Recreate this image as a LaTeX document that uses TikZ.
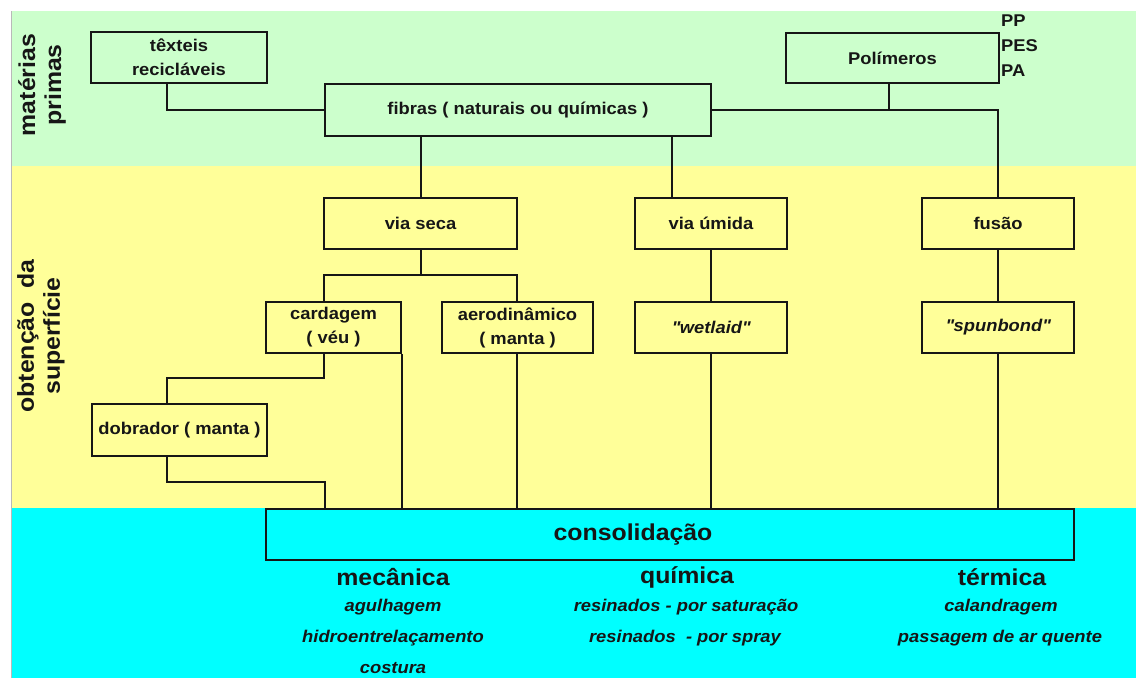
\documentclass[tikz,border=0pt]{standalone}
\usepackage{fontspec}
\setmainfont{Liberation Sans}[FakeStretch=1.08]
\usetikzlibrary{calc}
\definecolor{bggreen}{RGB}{204,255,204}
\definecolor{bgyellow}{RGB}{255,255,153}
\definecolor{bgcyan}{RGB}{0,255,255}
\definecolor{ink}{RGB}{22,22,22}
\newcommand\bxf{\fontsize{17}{24}\selectfont\bfseries}
\newcommand\hdf{\fontsize{23}{26}\selectfont\bfseries}
\newcommand\itf{\fontsize{17}{20}\selectfont\bfseries\itshape}
\begin{document}
\begin{tikzpicture}[x=1pt,y=-1pt,
  box/.style={draw=ink,line width=2pt,inner sep=0pt,align=center,font=\bxf,text=ink},
  conn/.style={draw=ink,line width=2pt},
  thinconn/.style={draw=ink,line width=1.1pt},
  head/.style={font=\hdf,text=ink,inner sep=0pt},
  item/.style={font=\itf,text=ink,inner sep=0pt},
  side/.style={font=\hdf,text=ink,rotate=90,align=center,inner sep=0pt},
  small/.style={font=\bxf,text=ink,inner sep=0pt,anchor=west}]
\useasboundingbox (0,0) rectangle (1136,678);
% background bands
\fill[bggreen] (11,11) rectangle (1136,166);
\fill[bgyellow] (11,166) rectangle (1136,508);
\fill[bgcyan] (11,508) rectangle (1136,678);
\draw[gray!55,line width=1pt] (11,11) -- (11,678);
% side labels
\node[side] (lab1) at (42,85) {matérias\\primas};
\node[side] (lab2) at (41,336) {obtenção\ \ da\\superfície};
% boxes
\node[box,minimum width=176pt,minimum height=51pt] (tex) at (179,57.5) {têxteis\\recicláveis};
\node[box,minimum width=386pt,minimum height=52pt] (fib) at (518,110) {fibras ( naturais ou químicas )};
\node[box,minimum width=213pt,minimum height=50pt] (pol) at (892.5,58) {Polímeros};
\node[small] (pp) at (1001,21) {PP};
\node[small] (pes) at (1001,46) {PES};
\node[small] (pa) at (1001,71) {PA};
\node[box,minimum width=193pt,minimum height=51pt] (seca) at (420.5,223.5) {via seca};
\node[box,minimum width=152pt,minimum height=51pt] (umida) at (711,223.5) {via úmida};
\node[box,minimum width=152pt,minimum height=51pt] (fusao) at (998,223.5) {fusão};
\node[box,minimum width=135pt,minimum height=51pt] (card) at (333.5,327.5) {cardagem\\( véu )};
\node[box,minimum width=151pt,minimum height=51pt] (aero) at (517.5,327.5) {aerodinâmico\\( manta )};
\node[box,minimum width=152pt,minimum height=51pt] (wet) at (711,327.5) {\itshape\textquotedbl wetlaid\textquotedbl};
\node[box,minimum width=152pt,minimum height=51pt] (spun) at (998,327.5) {\itshape\textquotedbl spunbond\textquotedbl};
\node[box,minimum width=175pt,minimum height=52pt] (dob) at (179.5,430) {dobrador ( manta )};
\node[box,minimum width=808pt,minimum height=51pt] (cons) at (670,534) {};
\node[head] (constxt) at (633,535) {consolidação};
% waypoints
\coordinate (j1) at (421,275);
\coordinate (j2) at (324,378);
\coordinate (j3) at (167,482);
% connectors
\draw[conn] (tex.south -| 167,0) |- (fib.west);
\draw[conn] (fib.east) -| (fusao.north);
\draw[thinconn] (pol.south -| 889,0) -- (889,110);
\draw[conn] (seca.north |- fib.south) -- (seca.north);
\draw[conn] (fib.south -| 672,0) -- (umida.north -| 672,0);
\draw[conn] (seca.south -| j1) -- (j1);
\draw[conn] (card.north -| 324,0) |- (j1) -| (aero.north -| 517,0);
\draw[conn] (umida.south) -- (wet.north);
\draw[conn] (fusao.south) -- (spun.north);
\draw[conn] (card.south -| j2) -- (j2) -| (dob.north -| j3);
\draw[conn] (dob.south -| j3) -- (j3) -| (cons.north -| 325,0);
\draw[conn] (card.south east) -- (card.south east |- cons.north);
\draw[conn] (aero.south -| 517,0) -- (cons.north -| 517,0);
\draw[conn] (wet.south) -- (cons.north -| wet.south);
\draw[conn] (spun.south) -- (cons.north -| spun.south);
% bottom texts
\node[head] (mec) at (393,577) {mecânica};
\node[item] (m1) at (393,607) {agulhagem};
\node[item] (m2) at (393,638) {hidroentrelaçamento};
\node[item] (m3) at (393,668) {costura};
\node[head] (qui) at (687,577) {química};
\node[item] (q1) at (686,607) {resinados - por saturação};
\node[item] (q2) at (685,638) {resinados \ - por spray};
\node[head] (ter) at (1002,577) {térmica};
\node[item] (t1) at (1001,607) {calandragem};
\node[item] (t2) at (1000,638) {passagem de ar quente};
\end{tikzpicture}
\end{document}
